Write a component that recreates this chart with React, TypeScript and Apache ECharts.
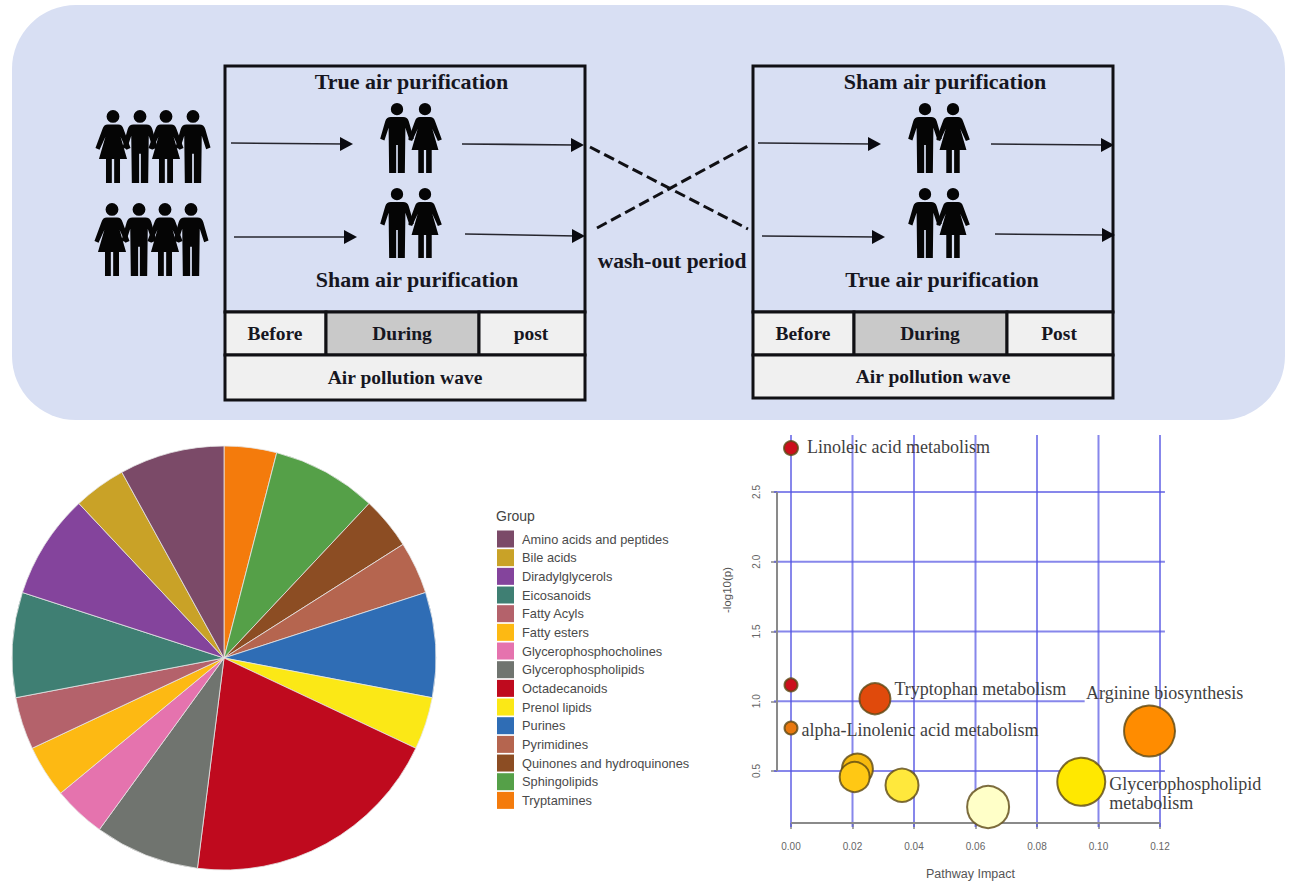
import React, { useEffect, useRef } from "react";
import * as echarts from "echarts";

// ---------- pie data ----------
const groupNames = [
  "Amino acids and peptides", "Bile acids", "Diradylglycerols", "Eicosanoids", "Fatty Acyls",
  "Fatty esters", "Glycerophosphocholines", "Glycerophospholipids", "Octadecanoids", "Prenol lipids",
  "Purines", "Pyrimidines", "Quinones and hydroquinones", "Sphingolipids", "Tryptamines",
];
const groupCounts = [2, 1, 2, 2, 1, 1, 1, 2, 5, 1, 2, 1, 1, 2, 1];
const groupColors = [
  "#7b4a68", "#c9a227", "#84449c", "#3f7f73", "#b4626b", "#fdb913", "#e573ae", "#70746f",
  "#bf0a1e", "#fbe816", "#2f6db5", "#b5654f", "#8c4d23", "#55a048", "#f47b0c",
];

// ---------- pathway bubble data ----------
const pathwayImpact = [0, 0, 0, 0.0273, 0.1166, 0.0944, 0.0641, 0.0361, 0.0216, 0.0207];
const pathwayLogP = [2.815, 1.117, 0.808, 1.018, 0.787, 0.423, 0.242, 0.398, 0.514, 0.457];
const pathwaySizes = [14, 13, 13, 31, 51, 48, 42, 33, 31, 30];
const pathwayColors = [
  "#cc0f1c", "#cc0f1c", "#e8780f", "#e04a0c", "#ff8c00", "#ffe800", "#ffffc8", "#ffe83c", "#f6b90e", "#ffc814",
];
const pathwayLabels = [
  "Linoleic acid metabolism", "", "alpha-Linolenic acid metabolism", "Tryptophan metabolism",
  "Arginine biosynthesis", "Glycerophospholipid\nmetabolism", "", "", "", "",
];
const xTicks = [0, 0.02, 0.04, 0.06, 0.08, 0.1, 0.12];
const yTicks = [0.5, 1, 1.5, 2, 2.5];

// ---------- style / layout ----------
const labelOffsets: number[][] = [
  [8, -1], [0, 0], [3, 2], [3, -10], [-90, -38], [3, 12], [0, 0], [0, 0], [0, 0], [0, 0],
];
const serif = '"Liberation Serif", serif';
const sans = '"Liberation Sans", Arial, sans-serif';
const ink = "#16161f";

echarts.graphic.registerShape(
  "man",
  echarts.graphic.extendPath(
    "M28 22a22 22 0 1 1 44 0a22 22 0 1 1 -44 0Z M28 50L72 50Q87 50 92 65L110 128L95 134L80 88L78 250L53 250L53 150L47 150L47 250L22 250L20 88L5 134L-10 128L8 65Q13 50 28 50Z",
    {}
  )
);
echarts.graphic.registerShape(
  "woman",
  echarts.graphic.extendPath(
    "M28 22a22 22 0 1 1 44 0a22 22 0 1 1 -44 0Z M32 50L68 50Q81 50 86 65L110 130L96 136L76 92L98 168L74 168L74 250L54 250L54 168L46 168L46 250L26 250L26 168L2 168L24 92L4 136L-10 130L14 65Q19 50 32 50Z",
    {}
  )
);

const person = (kind: string, cx: number, top: number, h: number) => {
  const s = h / 250;
  return { type: kind, x: cx - 50 * s, y: top, scaleX: s, scaleY: s, style: { fill: "#050505" } };
};

const label = (text: string, x: number, y: number, size: number, rot = 0) => ({
  type: "text",
  x,
  y,
  rotation: rot,
  style: { text, x: 0, y: 0, fill: ink, font: `bold ${size}px ${serif}`, align: "center", verticalAlign: "middle" },
});

const arrow = (x1: number, y1: number, x2: number, y2: number) => [
  {
    type: "line",
    shape: { x1, y1, x2: x2 - 8, y2 },
    style: { stroke: "#26262e", lineWidth: 1.6 },
  },
  {
    type: "polygon",
    shape: { points: [[x2 - 13, y2 - 7], [x2, y2], [x2 - 13, y2 + 7]] },
    style: { fill: "#0a0a10" },
  },
];

const box = (x: number, y: number, w: number, h: number, fill: string) => ({
  type: "rect",
  shape: { x, y, width: w, height: h },
  style: { fill, stroke: "#101014", lineWidth: 3 },
});

const trialPanel = (
  dx: number,
  top: string,
  topX: number,
  bottom: string,
  bottomX: number,
  last: string,
  yEnd: number
) => [
  box(225 + dx, 66, 360, 246, "rgba(0,0,0,0)"),
  box(225 + dx, 312, 101, 43, "#f0f0f0"),
  box(326 + dx, 312, 153, 43, "#c9c9c9"),
  box(479 + dx, 312, 106, 43, "#f0f0f0"),
  box(225 + dx, 355, 360, yEnd - 355, "#f0f0f0"),
  label(top, topX, 81, 22),
  label(bottom, bottomX, 279, 22),
  label("Before", 275 + dx, 333, 19.5),
  label("During", 402 + dx, 333, 19.5),
  label(last, 531 + dx, 333, 19.5),
  label("Air pollution wave", 405 + dx, (yEnd + 355) / 2, 19.5),
  person("man", 397 + dx, 103, 70),
  person("woman", 425 + dx, 103, 70),
  person("man", 397 + dx, 188, 70),
  person("woman", 425 + dx, 188, 70),
];

const crowd = (xs: number[], top: number) =>
  xs.map((x, i) => person(i % 2 === 0 ? "woman" : "man", x, top, 73));

const graphics = [
  {
    type: "rect",
    z: -10,
    shape: { x: 12, y: 5, width: 1273, height: 415, r: 64 },
    style: { fill: "#d8dff3" },
  },
  ...crowd([113, 140, 166, 193], 110),
  ...crowd([112, 139, 165, 191], 203),
  ...trialPanel(0, "True air purification", 411.5, "Sham air purification", 417, "post", 400),
  ...trialPanel(528, "Sham air purification", 945, "True air purification", 942, "Post", 398),
  ...arrow(231, 143, 353, 144),
  ...arrow(462, 144, 584, 145),
  ...arrow(234, 237, 357, 237),
  ...arrow(465, 234, 585, 236),
  ...arrow(758, 143, 881, 144),
  ...arrow(991, 144, 1114, 145),
  ...arrow(762, 236, 885, 237),
  ...arrow(995, 234, 1115, 235),
  {
    type: "line",
    shape: { x1: 590, y1: 147, x2: 748, y2: 229 },
    style: { stroke: "#101014", lineWidth: 3, lineDash: [11, 5] },
  },
  {
    type: "line",
    shape: { x1: 597, y1: 228, x2: 748, y2: 146 },
    style: { stroke: "#101014", lineWidth: 3, lineDash: [11, 5] },
  },
  label("wash-out period", 672, 261, 21.5),
  {
    type: "text",
    x: 496,
    y: 516,
    style: { text: "Group", fill: "#444", font: `14px ${sans}`, verticalAlign: "middle" },
  },
  {
    type: "text",
    x: 727,
    y: 590,
    rotation: Math.PI / 2,
    style: { text: "-log10(p)", fill: "#555", font: `11.5px ${sans}`, align: "center", verticalAlign: "middle" },
  },
];

const segment = (pts: number[][], color: string, width: number, z = 1) => ({
  type: "line",
  data: pts,
  showSymbol: false,
  silent: true,
  z,
  lineStyle: { color, width },
  itemStyle: { color },
  emphasis: { disabled: true },
  tooltip: { show: false },
});

const gridBlue = "rgba(84,84,226,0.7)";

export default function App() {
  const ref = useRef<HTMLDivElement>(null);
  useEffect(() => {
    const chart = echarts.init(ref.current!, undefined, { renderer: "svg" });
    chart.setOption({
      animation: false,
      backgroundColor: "#ffffff",
      graphic: graphics,
      legend: {
        orient: "vertical",
        left: 492,
        top: 525.5,
        itemWidth: 17,
        itemHeight: 17,
        itemGap: 1.67,
        icon: "rect",
        data: groupNames,
        itemStyle: { borderWidth: 0 },
        textStyle: { color: "#4a4a4a", fontSize: 12.8, fontFamily: sans, padding: [0, 0, 0, 3] },
      },
      grid: { left: 729.5, right: 68.5, top: 422.25, bottom: 45.25 },
      xAxis: {
        type: "value",
        min: -0.02,
        max: 0.14,
        interval: 0.02,
        offset: -17.75,
        name: "Pathway Impact",
        nameLocation: "middle",
        nameGap: 44,
        nameTextStyle: { color: "#555", fontSize: 12.5, fontFamily: sans, padding: [0, 10, 0, 0] },
        axisLine: { show: false },
        axisTick: { show: true, length: 6, customValues: xTicks, lineStyle: { color: "#888", width: 1.5 } },
        axisLabel: {
          customValues: xTicks,
          margin: 18,
          color: "#666",
          fontSize: 10,
          fontFamily: sans,
          formatter: (v: number) => v.toFixed(2),
        },
        splitLine: { show: false },
      },
      yAxis: {
        type: "value",
        min: 0,
        max: 3,
        interval: 0.5,
        offset: -47.5,
        axisLine: { show: false, onZero: false },
        axisTick: { show: true, length: 6, customValues: yTicks, lineStyle: { color: "#888", width: 1.5 } },
        axisLabel: {
          customValues: yTicks,
          margin: 16,
          rotate: 90,
          color: "#666",
          fontSize: 10,
          fontFamily: sans,
          formatter: (v: number) => v.toFixed(1),
        },
        splitLine: { show: false },
      },
      series: [
        {
          type: "pie",
          center: [224, 658],
          radius: [0, 212],
          startAngle: 90,
          clockwise: true,
          label: { show: false },
          labelLine: { show: false },
          emphasis: { disabled: true },
          itemStyle: { borderColor: "#e6e6e6", borderWidth: 0.8 },
          data: groupNames
            .map((name, i) => ({ name, value: groupCounts[i], itemStyle: { color: groupColors[i] } }))
            .reverse(),
        },
        ...xTicks.map((x) => segment([[x, 0.099], [x, 2.909]], gridBlue, 2)),
        ...yTicks.map((y) => segment([[-0.0055, y], [y === 1 ? 0.0955 : 0.1216, y]], gridBlue, 2)),
        segment([[-0.00455, 0.5], [-0.00455, 2.5]], "#8a8a8a", 2, 2),
        segment([[0, 0.127], [0.12, 0.127]], "#8a8a8a", 2, 2),
        {
          type: "scatter",
          z: 5,
          symbolSize: (v: number[]) => v[2],
          emphasis: { disabled: true },
          data: pathwayImpact.map((x, i) => ({
            value: [x, pathwayLogP[i], pathwaySizes[i]],
            itemStyle: { color: pathwayColors[i], borderColor: "rgba(92,72,20,0.8)", borderWidth: 2, opacity: 1 },
            label: {
              show: pathwayLabels[i] !== "",
              formatter: pathwayLabels[i],
              position: "right",
              distance: 0,
              offset: labelOffsets[i],
              color: "#3f3f3f",
              fontSize: 18,
              lineHeight: 19,
              fontFamily: serif,
            },
          })),
        },
      ],
    });
    return () => chart.dispose();
  }, []);
  return <div ref={ref} style={{ position: "absolute", left: 0, top: 0, width: 1290, height: 886 }} />;
}
